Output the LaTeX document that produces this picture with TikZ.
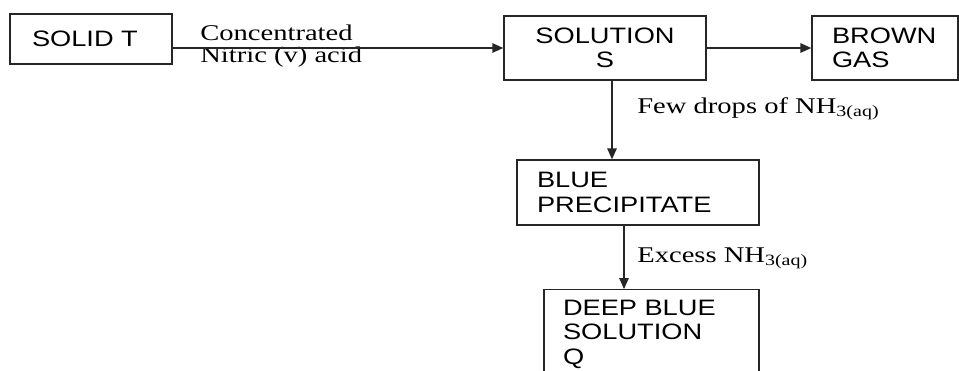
\documentclass[tikz,border=0pt]{standalone}
\usepackage{fontspec}
\setmainfont{Liberation Serif}[FakeStretch=1.27]
\newfontfamily\boxfont{Liberation Sans}[FakeStretch=1.22]
\usetikzlibrary{arrows.meta, positioning}

\begin{document}
\begin{tikzpicture}[x=0.02cm, y=-0.02cm, >={Triangle[length=0.22cm, width=0.19cm]},
	chem/.style={draw=black!85, line width=0.8pt, font=\boxfont\fontsize{12.7}{14}\selectfont, inner ysep=0pt},
	cond/.style={font=\fontsize{12.8}{12.5}\selectfont, inner sep=0pt},
	flow/.style={->, draw=black!85, line width=0.8pt}]
	\useasboundingbox (0,0) rectangle (959,370);
	\clip (0,0) rectangle (959,370);
	% substances
	\node[chem, text width=2.36cm, inner xsep=0.44cm, minimum height=1cm, align=left] (solidT) at (91,39) {SOLID T};
	\node[chem, minimum width=4.04cm, minimum height=1.28cm, align=center] (solS) at (605,48) {SOLUTION\\S};
	\node[chem, text width=2.12cm, inner xsep=0.4cm, minimum height=1.28cm, align=left] (brown) at (885,48) {BROWN\\GAS};
	\node[chem, text width=4.04cm, inner xsep=0.4cm, minimum height=1.3cm, align=left] (bluePpt) at (638,192.5) {BLUE\\PRECIPITATE};
	\node[chem, text width=3.54cm, inner xsep=0.38cm, inner ysep=0.2cm, align=left, anchor=north] (deepQ) at (651.5,289) {DEEP BLUE\\SOLUTION\\Q};
	% reagents
	\node[cond, align=left, anchor=north west] (acid) at (200,25) {Concentrated\\Nitric (v) acid};
	\node[cond, anchor=base west] (few) at (637,113) {Few drops of NH\textsubscript{3(aq)}};
	\node[cond, anchor=base west] (xs) at (637,262) {Excess NH\textsubscript{3(aq)}};
	% arrows
	\draw[flow] (solidT.east |- solS.west) -- (solS.west);
	\draw[flow] (solS.east) -- (brown.west);
	\coordinate (drop) at ([xshift=0.14cm]solS.south);
	\draw[flow] (drop) -- (drop |- bluePpt.north);
	\coordinate (excess) at ([xshift=-0.28cm]bluePpt.south);
	\draw[flow] (excess) -- (excess |- deepQ.north);
\end{tikzpicture}
\end{document}
